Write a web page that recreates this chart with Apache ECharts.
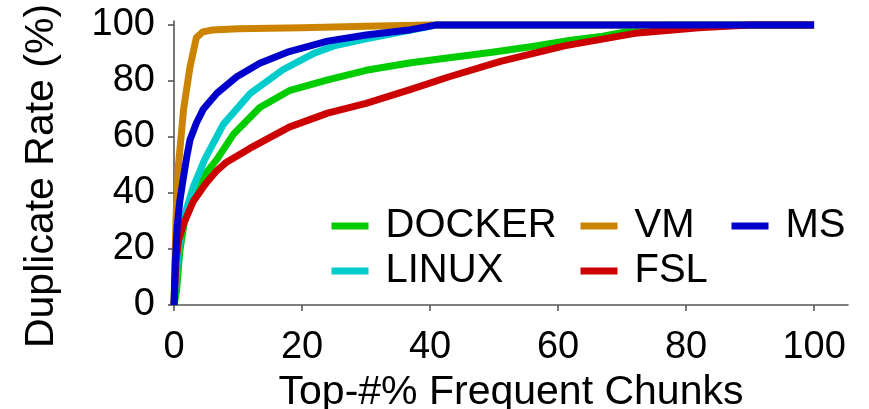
<!DOCTYPE html>
<html>
<head>
<meta charset="utf-8">
<script src="https://cdn.jsdelivr.net/npm/echarts@6/dist/echarts.min.js"></script>
<style>
  html, body { margin: 0; padding: 0; background: #ffffff; }
  #chart { width: 869px; height: 409px; }
</style>
</head>
<body>
<div id="chart"></div>
<script>
// Cumulative duplicate rate vs. top-#% most frequent chunks, per dataset.
// Each point is [top-% chunks, duplicate rate %].
const docker = [[0,0],[0.4,5],[0.9,19],[1.5,28],[2,34],[3,39.5],[4.1,44],[5.3,48],[6.7,52],[9.3,61],[13.4,70.5],[18,76.5],[24,80.4],[30,83.8],[37,86.5],[43,88.3],[50,90.3],[56,92.3],[62,94.5],[67,96],[73,98.6],[77,100],[100,100]];
const linux = [[0,0],[0.5,15],[1,25],[1.5,31],[3,42],[4.8,52],[7.7,64.5],[11.9,75.5],[17,84],[22,90],[25,92.5],[30,95],[35,97.3],[40,99.5],[41,100],[100,100]];
const vm = [[0,0],[0.3,30],[0.7,50],[1.5,70],[2.5,85],[3.5,95.5],[4.5,97.5],[6,98.2],[10,98.6],[20,99],[30,99.5],[40,100],[100,100]];
const fsl = [[0,0],[0.3,15],[0.7,23],[1.5,29],[3,37],[5,43.5],[6.7,48],[8.2,51],[11.9,56],[18,63.5],[24,68.5],[30,72],[37,77],[43,81.5],[51,87],[61,92.5],[72,97],[82,99],[87,99.6],[90,100],[100,100]];
const ms = [[0,0],[0.2,15],[0.5,28],[0.9,37],[1.3,43],[2,53],[2.5,59],[3.5,65],[4.6,70],[6.7,75.6],[9.8,81.5],[13.4,86.3],[18,90.5],[24,94.2],[30,96.4],[37,98.3],[41,100],[100,100]];

const xTicks = [0, 20, 40, 60, 80, 100];
const yTicks = [0, 20, 40, 60, 80, 100];

const seriesNames = ['DOCKER', 'LINUX', 'VM', 'FSL', 'MS'];
const seriesData = [docker, linux, vm, fsl, ms];
const seriesColors = ['#00cc00', '#00cccc', '#cc8400', '#cc0000', '#0000cc'];

const FONT = '"Liberation Sans", Arial, Helvetica, sans-serif';
const AXIS_COLOR = '#555555';

const chart = echarts.init(document.getElementById('chart'), null, { renderer: 'canvas' });

const legendText = {
  color: '#000000',
  fontFamily: FONT,
  fontSize: 40,
  lineHeight: 40,
  padding: [0, 0, 0, 12]
};

// One vertical legend per column so the rows line up as in a 3-column key;
// the key is just a flat line stroke, with no marker symbol on it.
function makeLegend(left, names) {
  return {
    orient: 'vertical',
    left: left,
    top: 201,
    itemWidth: 37,
    itemHeight: 7,
    itemGap: 5,
    selectedMode: false,
    itemStyle: { opacity: 0, borderWidth: 0 },
    lineStyle: { width: 7, cap: 'butt' },
    textStyle: legendText,
    data: names
  };
}

const option = {
  backgroundColor: '#ffffff',
  animation: false,
  grid: { left: 174, top: 21, width: 674, height: 284, containLabel: false, outerBoundsMode: 'none' },
  xAxis: {
    type: 'value',
    min: 0,
    max: 105.3,
    name: 'Top-#% Frequent Chunks',
    nameLocation: 'middle',
    nameGap: 58,
    nameTextStyle: { color: '#000000', fontFamily: FONT, fontSize: 41 },
    axisLine: { show: true, lineStyle: { color: AXIS_COLOR, width: 1.6 } },
    axisTick: { show: true, length: 6, customValues: xTicks, lineStyle: { color: AXIS_COLOR, width: 1.6 } },
    axisLabel: { customValues: xTicks, margin: 24, color: '#000000', fontFamily: FONT, fontSize: 38 },
    splitLine: { show: false }
  },
  yAxis: {
    type: 'value',
    min: 0,
    max: 101.4,
    axisLine: { show: true, lineStyle: { color: AXIS_COLOR, width: 1.6 } },
    axisTick: { show: true, length: 6, customValues: yTicks, lineStyle: { color: AXIS_COLOR, width: 1.6 } },
    axisLabel: { customValues: yTicks, margin: 19, color: '#000000', fontFamily: FONT, fontSize: 38 },
    splitLine: { show: false }
  },
  legend: [
    makeLegend(323, ['DOCKER', 'LINUX']),
    makeLegend(572, ['VM', 'FSL']),
    makeLegend(723, ['MS'])
  ],
  graphic: [{
    type: 'text',
    x: 42,
    y: 176,
    rotation: Math.PI / 2,
    style: {
      text: 'Duplicate Rate (%)',
      fill: '#000000',
      font: '41px ' + FONT,
      textAlign: 'center',
      textVerticalAlign: 'middle'
    }
  }],
  series: seriesNames.map((name, i) => ({
    name: name,
    type: 'line',
    data: seriesData[i],
    showSymbol: false,
    symbol: 'none',
    smooth: false,
    clip: false,
    color: seriesColors[i],
    lineStyle: { color: seriesColors[i], width: 7, join: 'round', cap: 'butt' },
    z: 2 + i
  }))
};

chart.setOption(option);
</script>
</body>
</html>
